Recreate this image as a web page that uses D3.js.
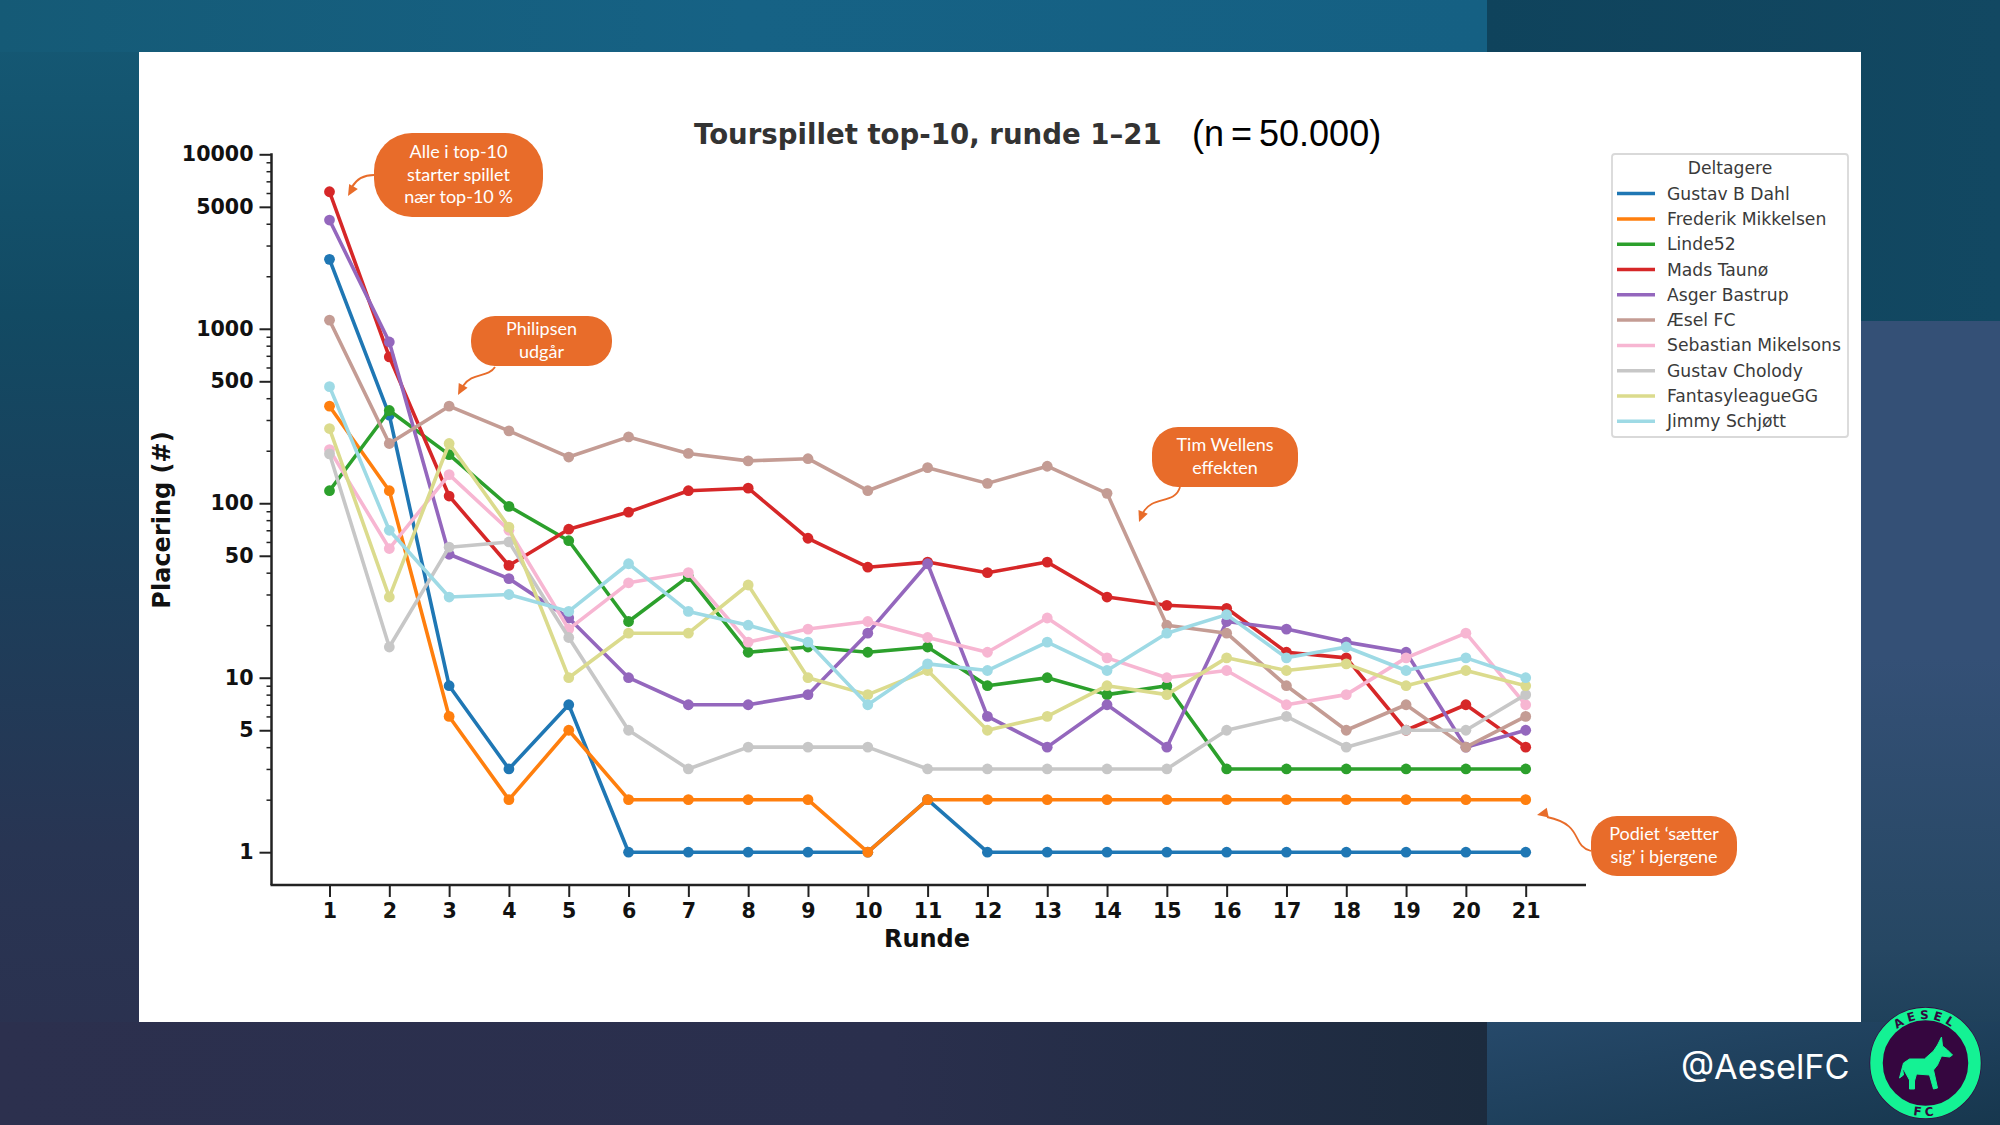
<!DOCTYPE html>
<html>
<head>
<meta charset="utf-8">
<script src="https://cdn.jsdelivr.net/npm/d3@7"></script>
<style>
  html, body { margin: 0; padding: 0; background: #1d3f5a; overflow: hidden; }
  svg { display: block; }
</style>
</head>
<body>
<svg id="chart"></svg>
<script>
const rounds = d3.range(1, 22);

// One list per player
const gustavDahl   = [2500, 320, 9, 3, 7, 1, 1, 1, 1, 1, 2, 1, 1, 1, 1, 1, 1, 1, 1, 1, 1];
const frederik     = [360, 118, 6, 2, 5, 2, 2, 2, 2, 1, 2, 2, 2, 2, 2, 2, 2, 2, 2, 2, 2];
const linde52      = [118, 340, 190, 96, 61, 21, 38, 14, 15, 14, 15, 9, 10, 8, 9, 3, 3, 3, 3, 3, 3];
const madsTaunoe   = [6100, 690, 110, 44, 71, 89, 118, 122, 63, 43, 46, 40, 46, 29, 26, 25, 14, 13, 5, 7, 4];
const asgerBastrup = [4200, 840, 51, 37, 22, 10, 7, 7, 8, 18, 45, 6, 4, 7, 4, 21, 19, 16, 14, 4, 5];
const aeselFC      = [1120, 220, 360, 260, 184, 240, 193, 175, 180, 118, 160, 130, 163, 114, 20, 18, 9, 5, 7, 4, 6];
const sebastian    = [203, 55, 146, 70, 19, 35, 40, 16, 19, 21, 17, 14, 22, 13, 10, 11, 7, 8, 13, 18, 7];
const gustavCh     = [192, 15, 56, 60, 17, 5, 3, 4, 4, 4, 3, 3, 3, 3, 3, 5, 6, 4, 5, 5, 8];
const fantasyGG    = [268, 29, 220, 73, 10, 18, 18, 34, 10, 8, 11, 5, 6, 9, 8, 13, 11, 12, 9, 11, 9];
const jimmy        = [466, 70, 29, 30, 24, 45, 24, 20, 16, 7, 12, 11, 16, 11, 18, 23, 13, 15, 11, 13, 10];

const players = [
  { name: 'Gustav B Dahl', values: gustavDahl, color: '#1f77b4' },
  { name: 'Frederik Mikkelsen', values: frederik, color: '#ff7f0e' },
  { name: 'Linde52', values: linde52, color: '#2ca02c' },
  { name: 'Mads Taunø', values: madsTaunoe, color: '#d62728' },
  { name: 'Asger Bastrup', values: asgerBastrup, color: '#9467bd' },
  { name: 'Æsel FC', values: aeselFC, color: '#c49c94' },
  { name: 'Sebastian Mikelsons', values: sebastian, color: '#f7b6d2' },
  { name: 'Gustav Cholody', values: gustavCh, color: '#c7c7c7' },
  { name: 'FantasyleagueGG', values: fantasyGG, color: '#dbdb8d' },
  { name: 'Jimmy Schjøtt', values: jimmy, color: '#9edae5' }
];

const yTicks = [1, 5, 10, 50, 100, 500, 1000, 5000, 10000];
const yMinor = [2, 3, 4, 6, 7, 8, 9, 20, 30, 40, 60, 70, 80, 90, 200, 300, 400, 600, 700, 800, 900,
  2000, 3000, 4000, 6000, 7000, 8000, 9000];

const callouts = [
  { lines: ['Alle i top-10', 'starter spillet', 'nær top-10 %'], x: 374, y: 133, w: 169, h: 84, r: 38,
    arrow: 'M374,175 C362,175 356,180 352,187', head: [348, 196, 30] },
  { lines: ['Philipsen', 'udgår'], x: 471, y: 316, w: 141, h: 50, r: 24,
    arrow: 'M495,367 C488,378 472,372 463,386', head: [458, 395, 28] },
  { lines: ['Tim Wellens', 'effekten'], x: 1152, y: 427, w: 146, h: 60, r: 26,
    arrow: 'M1180,487 C1175,505 1152,495 1143,513', head: [1139, 522, 22] },
  { lines: ['Podiet ‘sætter', 'sig’ i bjergene'], x: 1591, y: 816, w: 146, h: 60, r: 26,
    arrow: 'M1591,851 C1570,845 1585,825 1547,817', head: [1537, 815, 78] }
];

const width = 2000;
const height = 1125;
const panel = { left: 139, top: 52, right: 1861, bottom: 1022 };
const axisLeft = 271.5;
const axisRight = 1586;
const axisBottom = 885;
const sans = '"DejaVu Sans", sans-serif';
const orange = '#e86c2a';

const svg = d3.select('#chart').attr('width', width).attr('height', height);

// Background slide
const defs = svg.append('defs');
function gradient(id, x1, y1, x2, y2, stops) {
  const g = defs.append('linearGradient').attr('id', id)
    .attr('x1', x1).attr('y1', y1).attr('x2', x2).attr('y2', y2);
  stops.forEach(s => g.append('stop').attr('offset', s[0]).attr('stop-color', s[1]));
}
gradient('bgLeft', 0, 0, 0, 1, [[0, '#155a76'], [0.28, '#124a63'], [0.5, '#1b3f5b'], [0.75, '#283553'], [1, '#2c304e']]);
gradient('bgBand', 0, 0, 1, 0, [[0, '#155a76'], [0.5, '#166285'], [1, '#156083']]);
gradient('bgCorner', 0, 0, 1, 0, [[0, '#2c304e'], [0.6, '#2a2f4d'], [1, '#1c2b3e']]);
gradient('bgTop', 0, 0, 1, 0, [[0, '#0f435c'], [1, '#124862']]);
gradient('bgRight', 0, 0, 0, 1, [[0, '#345076'], [0.42, '#345076'], [0.78, '#264763'], [1, '#163950']]);
gradient('bgUnder', 0, 0, 1, 1, [[0, '#26496a'], [1, '#17374e']]);

svg.append('rect').attr('width', 1487).attr('height', height).attr('fill', 'url(#bgLeft)');
svg.append('rect').attr('width', 1487).attr('height', 52).attr('fill', 'url(#bgBand)');
svg.append('rect').attr('y', 1022).attr('width', 1487).attr('height', 103).attr('fill', 'url(#bgCorner)');
svg.append('rect').attr('x', 1487).attr('width', 513).attr('height', 321).attr('fill', 'url(#bgTop)');
svg.append('rect').attr('x', 1487).attr('y', 321).attr('width', 513).attr('height', 804).attr('fill', 'url(#bgRight)');
svg.append('rect').attr('x', 1487).attr('y', 1022).attr('width', 513).attr('height', 103).attr('fill', 'url(#bgUnder)');

svg.append('rect')
  .attr('x', panel.left).attr('y', panel.top)
  .attr('width', panel.right - panel.left).attr('height', panel.bottom - panel.top)
  .attr('fill', '#fff');

// Scales
const x = d3.scaleLinear().domain([1, 21]).range([329.5, 1525.7]);
const y = d3.scaleLog().domain([1, 10000]).range([852.2, 154.3]);

// Axes
const xAxisGroup = svg.append('g')
  .attr('transform', `translate(0,${axisBottom})`)
  .call(d3.axisBottom(x).tickValues(rounds).tickFormat(d3.format('d')).tickSize(12).tickPadding(6));
xAxisGroup.select('.domain').remove();
xAxisGroup.append('line').attr('x1', axisLeft - 1).attr('x2', axisRight).attr('stroke', '#222').attr('stroke-width', 2.5);

const yMinorGroup = svg.append('g')
  .attr('transform', `translate(${axisLeft},0)`)
  .call(d3.axisLeft(y).tickValues(yMinor).tickFormat('').tickSize(5));
yMinorGroup.select('.domain').remove();

const yAxisGroup = svg.append('g')
  .attr('transform', `translate(${axisLeft},0)`)
  .call(d3.axisLeft(y).tickValues(yTicks).tickFormat(d3.format('d')).tickSize(12).tickPadding(6));
yAxisGroup.select('.domain').remove();
yAxisGroup.append('line').attr('y1', y(10000) - 1).attr('y2', axisBottom).attr('stroke', '#222').attr('stroke-width', 2.5);

[xAxisGroup, yAxisGroup, yMinorGroup].forEach(g => {
  g.selectAll('.tick line').attr('stroke', '#222').attr('stroke-width', 2);
  g.selectAll('text')
    .attr('fill', '#111')
    .style('font-family', sans)
    .style('font-size', '20.6px')
    .style('font-weight', 'bold');
});
yMinorGroup.selectAll('.tick line').attr('stroke-width', 1.5);

// Series
const line = d3.line()
  .x((d, i) => x(rounds[i]))
  .y(d => y(d));

players.forEach(p => {
  svg.append('path')
    .datum(p.values)
    .attr('fill', 'none')
    .attr('stroke', p.color)
    .attr('stroke-width', 3.6)
    .attr('stroke-linejoin', 'round')
    .attr('d', line);
  svg.append('g').selectAll('circle')
    .data(p.values)
    .join('circle')
    .attr('cx', (d, i) => x(rounds[i]))
    .attr('cy', d => y(d))
    .attr('r', 5.4)
    .attr('fill', p.color);
});

// Titles
svg.append('text')
  .attr('x', 694).attr('y', 144)
  .attr('fill', '#333')
  .style('font-family', sans).style('font-size', '27.6px').style('font-weight', 'bold')
  .text('Tourspillet top-10, runde 1–21');
svg.append('text')
  .attr('x', 1192).attr('y', 146)
  .attr('fill', '#000')
  .style('font-family', '"Liberation Sans", sans-serif').style('font-size', '36px').style('word-spacing', '-3px')
  .text('(n = 50.000)');
svg.append('text')
  .attr('transform', 'translate(170,520) rotate(-90)')
  .attr('text-anchor', 'middle')
  .attr('fill', '#111')
  .style('font-family', sans).style('font-size', '24px').style('font-weight', 'bold')
  .text('Placering (#)');
svg.append('text')
  .attr('x', 927).attr('y', 947)
  .attr('text-anchor', 'middle')
  .attr('fill', '#111')
  .style('font-family', sans).style('font-size', '24px').style('font-weight', 'bold')
  .text('Runde');

// Legend
const legend = svg.append('g');
legend.append('rect')
  .attr('x', 1612).attr('y', 154).attr('width', 236).attr('height', 283).attr('rx', 3)
  .attr('fill', '#fff').attr('stroke', '#d9d9d9').attr('stroke-width', 1.8);
legend.append('text')
  .attr('x', 1730).attr('y', 174).attr('text-anchor', 'middle')
  .attr('fill', '#3a3a3a')
  .style('font-family', sans).style('font-size', '17.2px')
  .text('Deltagere');
const legendY = d3.scaleLinear().domain([0, 9]).range([193.6, 421.3]);
players.forEach((p, i) => {
  legend.append('line')
    .attr('x1', 1617).attr('x2', 1655)
    .attr('y1', legendY(i)).attr('y2', legendY(i))
    .attr('stroke', p.color).attr('stroke-width', 3.5);
  legend.append('text')
    .attr('x', 1667).attr('y', legendY(i) + 6)
    .attr('fill', '#3a3a3a')
    .style('font-family', sans).style('font-size', '17.2px')
    .text(p.name);
});

// Callouts
callouts.forEach(c => {
  svg.append('path').attr('d', c.arrow).attr('fill', 'none').attr('stroke', orange).attr('stroke-width', 1.8);
  svg.append('path')
    .attr('d', 'M0,0 L-5,-11 L5,-11 Z')
    .attr('transform', `translate(${c.head[0]},${c.head[1]}) rotate(${c.head[2]})`)
    .attr('fill', orange);
  svg.append('rect')
    .attr('x', c.x).attr('y', c.y).attr('width', c.w).attr('height', c.h).attr('rx', c.r)
    .attr('fill', orange);
  const lineGap = 22.5;
  const firstY = c.y + c.h / 2 - (c.lines.length - 1) * lineGap / 2 + 5.5;
  c.lines.forEach((t, i) => {
    svg.append('text')
      .attr('x', c.x + c.w / 2).attr('y', firstY + i * lineGap)
      .attr('text-anchor', 'middle')
      .attr('fill', '#fff')
      .style('font-family', 'Lato, sans-serif').style('font-size', '18px')
      .text(t);
  });
});

// Handle and badge
svg.append('text')
  .attr('x', 1681).attr('y', 1079)
  .attr('fill', '#fff')
  .style('font-family', 'Inter, sans-serif').style('font-size', '34.3px')
  .text('@AeselFC');

const badge = svg.append('g').attr('transform', 'translate(1925.5,1063)');
badge.append('circle').attr('r', 56).attr('fill', '#35063f');
badge.append('circle').attr('r', 49).attr('fill', 'none').attr('stroke', '#14f294').attr('stroke-width', 12.5);
badge.append('path')
  .attr('d', 'M-26,15 L-22,0 L-16,-4 L-1,-4 L8,-12 L12,-18 L16,-26 L17,-17 L22,-13 L27,-8 L24,-6 L16,-7 L12,2 L8,7 L12,25 L8,26 L4,12 L-9,11 L-11,18 L-11,26 L-16,26 L-16,17 L-21,8 L-23,5 L-22,12 Z')
  .attr('fill', '#14f294').attr('stroke', '#14f294').attr('stroke-width', 1).attr('stroke-linejoin', 'round');
defs.append('path').attr('id', 'ringTop').attr('d', 'M-44,0 A44,44 0 0 1 44,0');
defs.append('path').attr('id', 'ringBottom').attr('d', 'M-53,0 A53,53 0 0 0 53,0');
badge.append('text').attr('text-anchor', 'middle').attr('fill', '#35063f')
  .style('font-family', sans).style('font-size', '12px').style('font-weight', 'bold').style('letter-spacing', '4px')
  .append('textPath').attr('href', '#ringTop').attr('startOffset', '50%').text('AESEL');
badge.append('text').attr('text-anchor', 'middle').attr('fill', '#35063f')
  .style('font-family', sans).style('font-size', '12px').style('font-weight', 'bold').style('letter-spacing', '4px')
  .append('textPath').attr('href', '#ringBottom').attr('startOffset', '50%').text('FC');
</script>
</body>
</html>
